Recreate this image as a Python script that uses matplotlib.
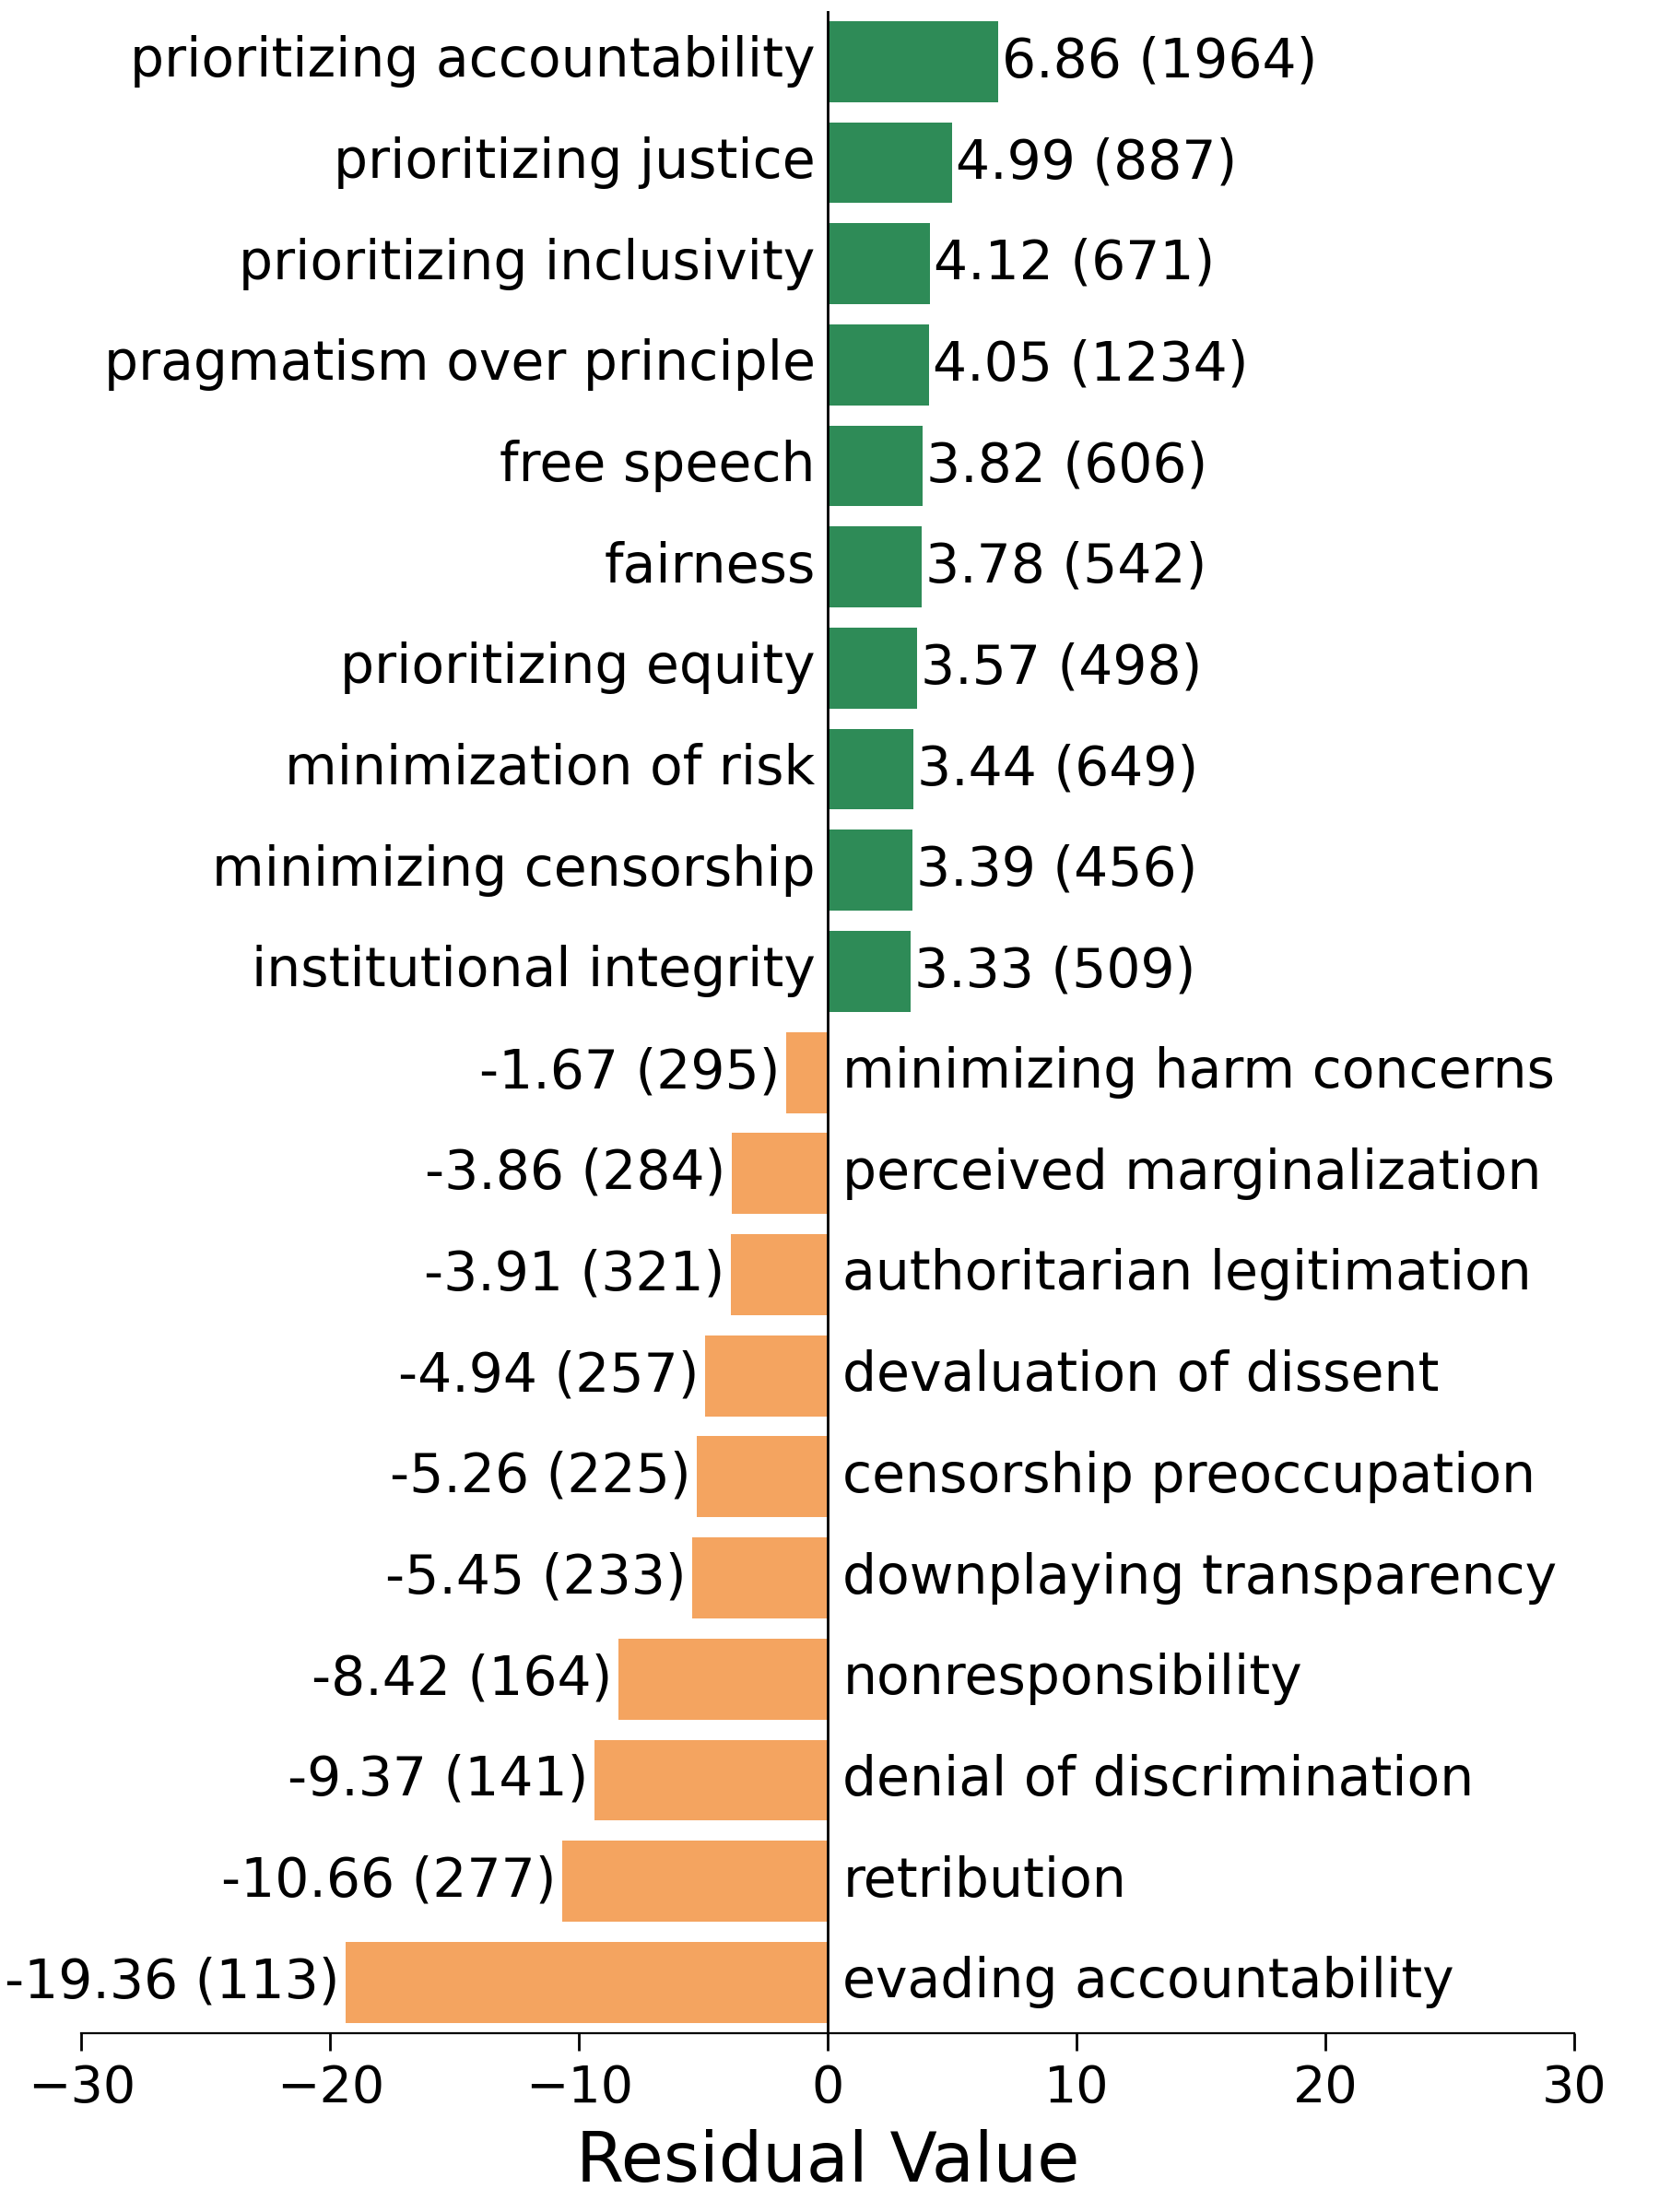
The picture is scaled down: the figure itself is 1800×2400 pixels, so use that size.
import matplotlib.pyplot as plt
import numpy as np

categories = [
    "prioritizing accountability", "prioritizing justice", "prioritizing inclusivity",
    "pragmatism over principle", "free speech", "fairness", "prioritizing equity",
    "minimization of risk", "minimizing censorship", "institutional integrity",
    "minimizing harm concerns", "perceived marginalization", "authoritarian legitimation",
    "devaluation of dissent", "censorship preoccupation", "downplaying transparency",
    "nonresponsibility", "denial of discrimination", "retribution", "evading accountability",
]
residuals = [6.86, 4.99, 4.12, 4.05, 3.82, 3.78, 3.57, 3.44, 3.39, 3.33,
             -1.67, -3.86, -3.91, -4.94, -5.26, -5.45, -8.42, -9.37, -10.66, -19.36]
counts = [1964, 887, 671, 1234, 606, 542, 498, 649, 456, 509,
          295, 284, 321, 257, 225, 233, 164, 141, 277, 113]

green = "#2E8B57"
orange = "#F4A460"

fig = plt.figure(figsize=(9, 12), dpi=200)
ax = fig.add_axes([0.049, 0.081, 0.90, 0.914])

y = np.arange(len(categories))
colors = [green if v > 0 else orange for v in residuals]
ax.barh(y, residuals, height=0.8, color=colors)

fs = 21
for yi, name, v, n in zip(y, categories, residuals, counts):
    if v > 0:
        ax.text(-0.5, yi, name, ha="right", va="center", fontsize=fs)
        ax.text(v + 0.15, yi, f"{v:.2f} ({n})", ha="left", va="center", fontsize=fs)
    else:
        ax.text(0.6, yi, name, ha="left", va="center", fontsize=fs)
        ax.text(v - 0.25, yi, f"{v:.2f} ({n})", ha="right", va="center", fontsize=fs)

ax.axvline(0, color="black", linewidth=1)
ax.set_xlim(-30, 30)
ax.set_ylim(len(categories) - 0.5, -0.5)
ax.set_yticks([])
ax.set_xticks([-30, -20, -10, 0, 10, 20, 30])
ax.tick_params(axis="x", labelsize=20, length=7, width=1, pad=5)
ax.set_xlabel("Residual Value", fontsize=27, labelpad=6)
for s in ["top", "right", "left"]:
    ax.spines[s].set_visible(False)

fig.savefig("out.png", dpi=200)
